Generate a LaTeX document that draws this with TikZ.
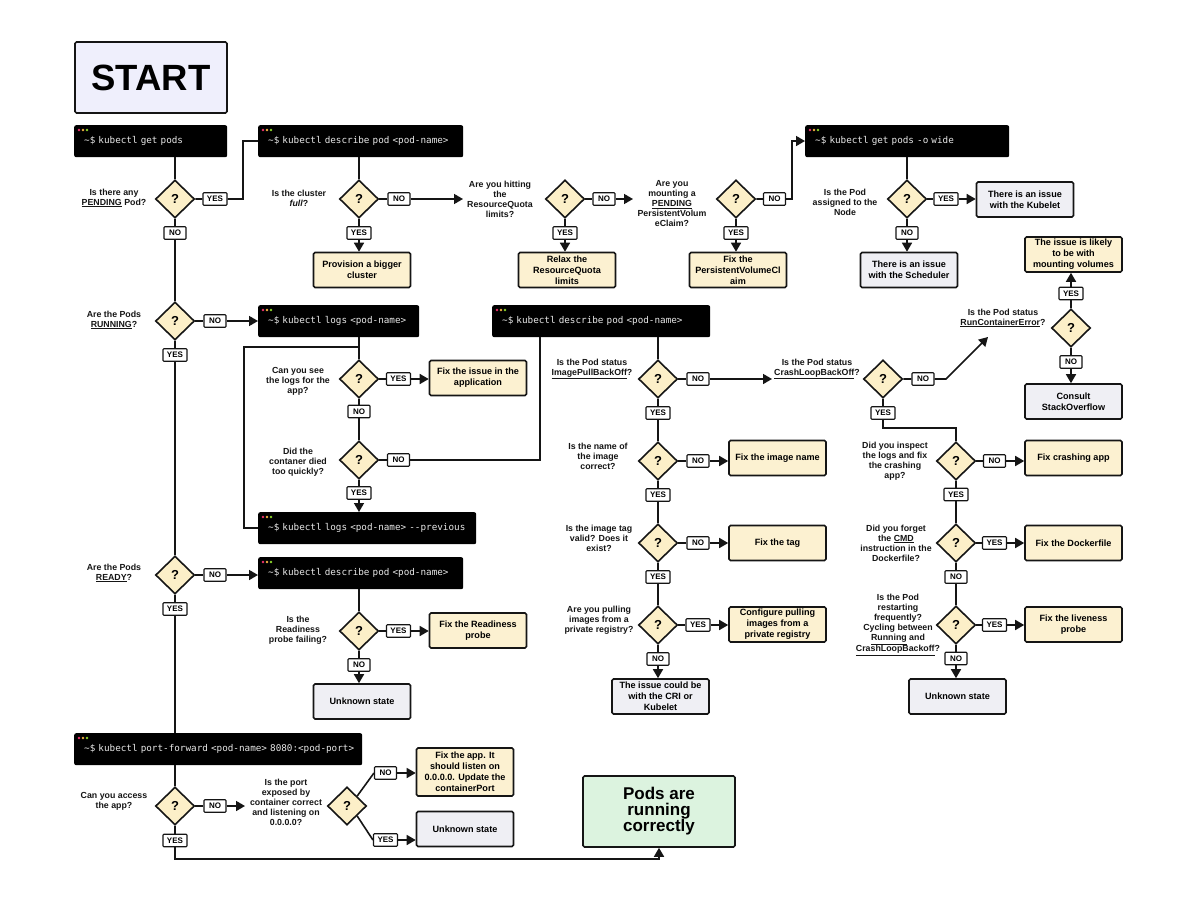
\documentclass[tikz,border=0pt]{standalone}
\usepackage{fontspec}
\setmainfont{Liberation Sans}
\newfontfamily\termfont{DejaVu Sans Mono}
\usetikzlibrary{shapes.geometric,arrows.meta,calc}
\definecolor{qfill}{HTML}{FCEFC8}
\definecolor{cream}{HTML}{FCF1D1}
\definecolor{grayb}{HTML}{EFEFF4}
\definecolor{startfill}{HTML}{EFEFFC}
\definecolor{okfill}{HTML}{DCF3DF}
\definecolor{dotr}{HTML}{F0326E}
\definecolor{doto}{HTML}{F5B041}
\definecolor{dotg}{HTML}{8CD42C}
\definecolor{termtext}{HTML}{E8E8E8}
\definecolor{ink}{HTML}{151515}
\tikzset{
  conn/.style={line width=1.6pt, draw=ink},
  arr/.style={conn, -{Triangle[length=9pt,width=10pt]}},
  dia/.style={diamond, draw=ink, line width=1.6pt, fill=qfill, minimum width=39pt, minimum height=38pt, inner sep=0pt, font=\fontsize{13}{13}\selectfont\bfseries},
  tag/.style={draw=ink, line width=1.1pt, fill=white, rounded corners=0.8pt, inner xsep=4pt, inner ysep=0pt, minimum height=12.5pt, minimum width=22pt, font=\fontsize{8}{8}\selectfont\bfseries},
  fix/.style={draw=ink, line width=1.6pt, fill=cream, rounded corners=1.5pt, minimum width=97pt, minimum height=35pt, align=center, inner sep=2pt, font=\fontsize{9.1}{11}\selectfont\bfseries},
  info/.style={fix, fill=grayb},
  lbl/.style={align=center, inner sep=0pt, text=ink, font=\fontsize{8.8}{10}\selectfont\bfseries},
  term/.style={fill=black, rounded corners=2pt, minimum height=32pt, inner xsep=10pt, inner ysep=0pt, align=left, text=termtext, font=\termfont\fontsize{9.3}{10}\selectfont},
}
\newcommand\termnode[5]{%
  \pgfmathsetmacro\termtw{#4-20}%
  \node[term, minimum width=#4pt, text width=\termtw pt, anchor=north west] (#1) at (#2,#3) {\raisebox{-2pt}{#5}};
  \fill[dotr] ($(#1.north west)+(5,5)$) circle[radius=1.3pt];
  \fill[doto] ($(#1.north west)+(9,5)$) circle[radius=1.3pt];
  \fill[dotg] ($(#1.north west)+(13,5)$) circle[radius=1.3pt];
}
\newcommand\prompt{\textasciitilde\$ }
\begin{document}
\begin{tikzpicture}[x=1pt,y=-1pt]
\useasboundingbox (0,0) rectangle (1200,900);
\fill[white] (0,0) rectangle (1200,900);

% START
\node[draw=ink, line width=1.6pt, fill=startfill, rounded corners=1.5pt, minimum width=152pt, minimum height=71pt, font=\fontsize{36.5}{36.5}\selectfont\bfseries] (start) at (151,77.5) {START};

% terminals
\termnode{T1}{74}{125}{153}{\prompt kubectl get pods}
\termnode{T2}{258}{125}{205}{\prompt kubectl describe pod <pod-name>}
\termnode{T3}{805}{125}{204}{\prompt kubectl get pods -o wide}
\termnode{T4}{258}{305}{161}{\prompt kubectl logs <pod-name>}
\termnode{T5}{258}{512}{218}{\prompt kubectl logs <pod-name> -{}-previous}
\termnode{T6}{492}{305}{218}{\prompt kubectl describe pod <pod-name>}
\termnode{T7}{258}{557}{205}{\prompt kubectl describe pod <pod-name>}
\termnode{T8}{74}{733}{288}{\prompt kubectl port-forward <pod-name> 8080:<pod-port>}

% diamonds
\node[dia] (D1) at (175,199) {?};
\node[dia] (D2) at (359,199) {?};
\node[dia] (D3) at (565,199) {?};
\node[dia] (D4) at (736,199) {?};
\node[dia] (D5) at (907,199) {?};
\node[dia] (D6) at (175,321) {?};
\node[dia] (D7) at (175,575) {?};
\node[dia] (D8) at (359,379) {?};
\node[dia] (D9) at (359,460) {?};
\node[dia] (D10) at (658,379) {?};
\node[dia] (D11) at (883,379) {?};
\node[dia] (D12) at (658,461) {?};
\node[dia] (D13) at (658,543) {?};
\node[dia] (D14) at (658,625) {?};
\node[dia] (D15) at (1071,328) {?};
\node[dia] (D16) at (956,461) {?};
\node[dia] (D17) at (956,543) {?};
\node[dia] (D18) at (956,625) {?};
\node[dia] (D19) at (359,631) {?};
\node[dia] (D20) at (175,806) {?};
\node[dia] (D21) at (347,806) {?};

% question labels
\node[lbl] (L1) at (114,198) {Is there any\\\underline{PENDING} Pod?};
\node[lbl] (L2) at (299,198) {Is the cluster\\\textit{full}?};
\node[lbl] (L3) at (500,199) {Are you hitting\\the\\ResourceQuota\\limits?};
\node[lbl] (L4) at (672,204) {Are you\\mounting a\\\underline{PENDING}\\PersistentVolum\\eClaim?};
\node[lbl] (L5) at (845,202) {Is the Pod\\assigned to the\\Node};
\node[lbl] (L6) at (114,320) {Are the Pods\\\underline{RUNNING}?};
\node[lbl] (L7) at (114,573) {Are the Pods\\\underline{READY}?};
\node[lbl] (L8) at (298,381) {Can you see\\the logs for the\\app?};
\node[lbl] (L9) at (298,462) {Did the\\contaner died\\too quickly?};
\node[lbl] (L10) at (592,369) {Is the Pod status\\\underline{ImagePullBackOff}?};
\node[lbl] (L11) at (817,369) {Is the Pod status\\\underline{CrashLoopBackOff}?};
\node[lbl] (L12) at (598,456) {Is the name of\\the image\\correct?};
\node[lbl] (L13) at (599,538) {Is the image tag\\valid? Does it\\exist?};
\node[lbl] (L14) at (599,620) {Are you pulling\\images from a\\private registry?};
\node[lbl] (L15) at (1003,318) {Is the Pod status\\\underline{RunContainerError}?};
\node[lbl] (L16) at (895,461) {Did you inspect\\the logs and fix\\the crashing\\app?};
\node[lbl] (L17) at (896,543) {Did you forget\\the \underline{CMD}\\instruction in the\\Dockerfile?};
\node[lbl] (L18) at (898,625) {Is the Pod\\restarting\\frequently?\\Cycling between\\\underline{Running} and\\\underline{CrashLoopBackoff}?};
\node[lbl] (L19) at (298,630) {Is the\\Readiness\\probe failing?};
\node[lbl] (L20) at (114,801) {Can you access\\the app?};
\node[lbl] (L21) at (286,802) {Is the port\\exposed by\\container correct\\and listening on\\0.0.0.0?};

% result boxes
\node[fix] (B1) at (362,270) {Provision a bigger\\cluster};
\node[fix] (B2) at (567,270) {Relax the\\ResourceQuota\\limits};
\node[fix] (B3) at (738,270) {Fix the\\PersistentVolumeCl\\aim};
\node[info] (G1) at (1025,199.5) {There is an issue\\with the Kubelet};
\node[info] (G2) at (909,270) {There is an issue\\with the Scheduler};
\node[fix] (B4) at (478,378) {Fix the issue in the\\application};
\node[fix] (B5) at (777.5,458) {Fix the image name};
\node[fix] (B6) at (777.5,543) {Fix the tag};
\node[fix] (B7) at (777.5,624.5) {Configure pulling\\images from a\\private registry};
\node[info] (G3) at (660.5,696.5) {The issue could be\\with the CRI or\\Kubelet};
\node[fix] (B8) at (1073.5,254.5) {The issue is likely\\to be with\\mounting volumes};
\node[info] (G4) at (1073.5,401.5) {Consult\\StackOverflow};
\node[fix] (B9) at (1073.5,458) {Fix crashing app};
\node[fix] (B10) at (1073.5,543) {Fix the Dockerfile};
\node[fix] (B11) at (1073.5,624.5) {Fix the liveness\\probe};
\node[info] (G5) at (957.5,696.5) {Unknown state};
\node[fix] (B12) at (478,630.5) {Fix the Readiness\\probe};
\node[info] (G6) at (362,701.5) {Unknown state};
\node[fix, minimum height=48pt] (B13) at (465,772) {Fix the app. It\\should listen on\\0.0.0.0. Update the\\containerPort};
\node[info] (G7) at (465,829) {Unknown state};
\node[draw=ink, line width=1.6pt, fill=okfill, rounded corners=1.5pt, minimum width=152pt, minimum height=71pt, align=center, font=\fontsize{17}{16}\selectfont\bfseries] (OK) at (659,811.5) {Pods are\\running\\correctly};

% tags
\node[tag] (Y1) at (215,199) {YES};
\node[tag] (N1) at (175,233) {NO};
\node[tag] (N2) at (399,199) {NO};
\node[tag] (Y2) at (359,233) {YES};
\node[tag] (N3) at (604,199) {NO};
\node[tag] (Y3) at (565,233) {YES};
\node[tag] (N4) at (774.5,199) {NO};
\node[tag] (Y4) at (736,233) {YES};
\node[tag] (Y5) at (946,199) {YES};
\node[tag] (N5) at (907,233) {NO};
\node[tag] (N6) at (215,321) {NO};
\node[tag] (Y6) at (175,355) {YES};
\node[tag] (Y8) at (398.5,379) {YES};
\node[tag] (N8) at (359,411.5) {NO};
\node[tag] (N9) at (398.5,460) {NO};
\node[tag] (Y9) at (359,493) {YES};
\node[tag] (N10) at (698,379) {NO};
\node[tag] (Y10) at (658,413) {YES};
\node[tag] (N12) at (698,461) {NO};
\node[tag] (Y12) at (658,495) {YES};
\node[tag] (N13) at (698,543) {NO};
\node[tag] (Y13) at (658,577) {YES};
\node[tag] (Y14) at (698,625) {YES};
\node[tag] (N14) at (658,659) {NO};
\node[tag] (N11) at (923,379) {NO};
\node[tag] (Y11) at (883,413) {YES};
\node[tag] (Y15) at (1071,293.5) {YES};
\node[tag] (N15) at (1071,362) {NO};
\node[tag] (N16) at (994.5,461) {NO};
\node[tag] (Y16) at (956,494.5) {YES};
\node[tag] (Y17) at (994.5,543) {YES};
\node[tag] (N17) at (956,577) {NO};
\node[tag] (Y18) at (994.5,625) {YES};
\node[tag] (N18) at (956,658.5) {NO};
\node[tag] (N7) at (215,575) {NO};
\node[tag] (Y7) at (175,609) {YES};
\node[tag] (Y19) at (398.5,631) {YES};
\node[tag] (N19) at (359,665) {NO};
\node[tag] (N20) at (215,806) {NO};
\node[tag] (Y20) at (175,840.5) {YES};
\node[tag] (N21) at (385.5,773) {NO};
\node[tag] (Y21) at (385.5,840) {YES};

% coordinates
\coordinate (c1) at (243,141);
\coordinate (c2) at (463,199);
\coordinate (c3) at (633,199);
\coordinate (c4) at (792,141);
\coordinate (j1) at (359,347);
\coordinate (j2) at (244,347);
\coordinate (c5) at (540,337);
\coordinate (c6) at (772,379);
\coordinate (c7) at (946,379);
\coordinate (c8) at (988,337);
\coordinate (c9) at (883,428);
\coordinate (c10) at (245,806);
\coordinate (c11) at (175,859);

% connectors
\draw[conn] (D1 |- T1.south) -- (D1);
\draw[conn] (D1) -- (Y1) -| (c1) -- (T2);
\draw[conn] (D1) -- (N1) -- (D6);
\draw[conn] (D2 |- T2.south) -- (D2);
\draw[arr] (D2) -- (N2) -- (c2);
\draw[conn] (D2) -- (Y2);
\draw[arr] (Y2) -- (Y2 |- B1.north);
\draw[arr] (D3) -- (N3) -- (c3);
\draw[conn] (D3) -- (Y3);
\draw[arr] (Y3) -- (Y3 |- B2.north);
\draw[conn] (D4) -- (Y4);
\draw[arr] (Y4) -- (Y4 |- B3.north);
\draw[arr] (D4) -- (N4) -| (c4) -- (T3);
\draw[conn] (D5 |- T3.south) -- (D5);
\draw[conn] (D5) -- (Y5);
\draw[arr] (Y5) -- (Y5 -| G1.west);
\draw[conn] (D5) -- (N5);
\draw[arr] (N5) -- (N5 |- G2.north);

\draw[conn] (D6) -- (N6);
\draw[arr] (N6) -- (N6 -| T4.west);
\draw[conn] (D6) -- (Y6) -- (D7);
\draw[conn] (D8 |- T4.south) -- (D8);
\draw[conn] (j1) -- (j2) |- (T5);
\draw[conn] (D8) -- (Y8);
\draw[arr] (Y8) -- (Y8 -| B4.west);
\draw[conn] (D8) -- (N8) -- (D9);
\draw[conn] (D9) -- (N9) -| (c5);
\draw[conn] (D9) -- (Y9);
\draw[arr] (Y9) -- (Y9 |- T5.north);

\draw[conn] (D10 |- T6.south) -- (D10);
\draw[arr] (D10) -- (N10) -- (c6);
\draw[conn] (D10) -- (Y10) -- (D12);
\draw[conn] (D12) -- (N12);
\draw[arr] (N12) -- (N12 -| B5.west);
\draw[conn] (D12) -- (Y12) -- (D13);
\draw[conn] (D13) -- (N13);
\draw[arr] (N13) -- (N13 -| B6.west);
\draw[conn] (D13) -- (Y13) -- (D14);
\draw[conn] (D14) -- (Y14);
\draw[arr] (Y14) -- (Y14 -| B7.west);
\draw[conn] (D14) -- (N14);
\draw[arr] (N14) -- (N14 |- G3.north);

\draw[arr] (D11) -- (N11) -- (c7) -- (c8);
\draw[conn] (D15) -- (Y15);
\draw[arr] (Y15) -- (Y15 |- B8.south);
\draw[conn] (D15) -- (N15);
\draw[arr] (N15) -- (N15 |- G4.north);
\draw[conn] (D11) -- (Y11) -- (c9) -| (D16);
\draw[conn] (D16) -- (N16);
\draw[arr] (N16) -- (N16 -| B9.west);
\draw[conn] (D16) -- (Y16) -- (D17);
\draw[conn] (D17) -- (Y17);
\draw[arr] (Y17) -- (Y17 -| B10.west);
\draw[conn] (D17) -- (N17) -- (D18);
\draw[conn] (D18) -- (Y18);
\draw[arr] (Y18) -- (Y18 -| B11.west);
\draw[conn] (D18) -- (N18);
\draw[arr] (N18) -- (N18 |- G5.north);

\draw[conn] (D7) -- (N7);
\draw[arr] (N7) -- (N7 -| T7.west);
\draw[conn] (D7) -- (Y7) -- (Y7 |- T8.north);
\draw[conn] (D19 |- T7.south) -- (D19);
\draw[conn] (D19) -- (Y19);
\draw[arr] (Y19) -- (Y19 -| B12.west);
\draw[conn] (D19) -- (N19);
\draw[arr] (N19) -- (N19 |- G6.north);

\draw[conn] (D20 |- T8.south) -- (D20);
\draw[arr] (D20) -- (N20) -- (c10);
\draw[conn] (D21.north east) -- (N21.west);
\draw[arr] (N21) -- (N21 -| B13.west);
\draw[conn] (D21.south east) -- (Y21.west);
\draw[arr] (Y21) -- (Y21 -| G7.west);
\draw[arr] (D20) -- (Y20) -- (c11) -| (OK.south);
\end{tikzpicture}
\end{document}
